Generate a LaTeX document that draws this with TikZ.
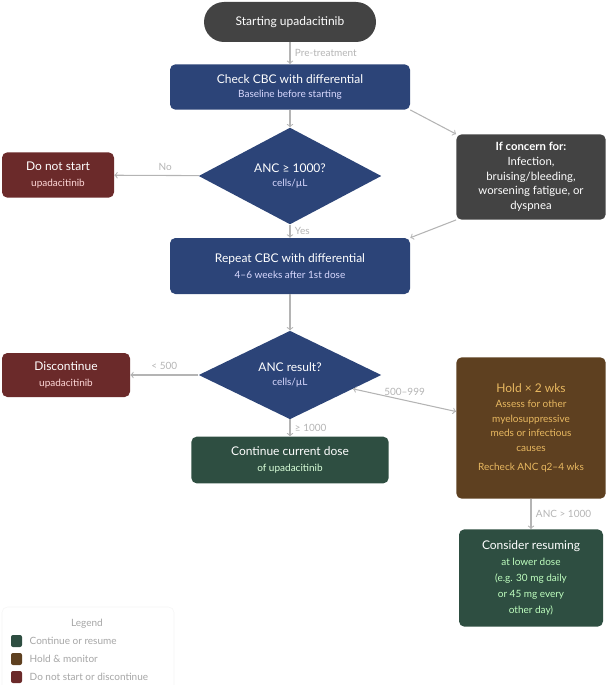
\documentclass[tikz,border=0pt]{standalone}
\usepackage{fontspec}
\setmainfont{Lato}
\usetikzlibrary{shapes.geometric}
\definecolor{startgray}{HTML}{434343}
\definecolor{stepblue}{HTML}{2C4478}
\definecolor{stopred}{HTML}{6B2A2A}
\definecolor{gogreen}{HTML}{2E4E41}
\definecolor{holdbrown}{HTML}{5E4020}
\definecolor{linegray}{HTML}{B4B4B4}
\definecolor{holdtext}{HTML}{E8B860}
\newcommand\subfont{\fontsize{7.5}{11}\selectfont}
\tikzset{
  box/.style={rounded corners=4pt, align=center, inner sep=2pt, text=white, font=\fontsize{9}{12}\selectfont},
  choice/.style={diamond, fill=stepblue, inner sep=0pt, align=center, text=white, font=\fontsize{9}{11}\selectfont},
  link/.style={draw=linegray, thick, -to},
  tag/.style={text=linegray, font=\fontsize{7.5}{9}\selectfont},
}
\begin{document}
\begin{tikzpicture}[x=0.75pt,y=-0.75pt]
    \useasboundingbox (0,0) rectangle (607,685);
    \node[box, fill=startgray, rounded corners=15pt, minimum width=129pt, minimum height=30pt] (start) at (290,22) {Starting upadacitinib};
    \node[box, fill=stepblue, minimum width=180pt, minimum height=34pt] (check) at (290,87) {Check CBC with differential\\[-1pt]{\subfont\color{blue!15}Baseline before starting}};
    \node[choice, minimum width=137pt, minimum height=58pt] (anc) at (290,176) {ANC ≥ 1000?\\{\subfont\color{blue!15}cells/µL}};
    \node[box, fill=stopred, minimum width=84pt, minimum height=34pt] (nostart) at (58,175) {Do not start\\{\subfont\color{red!15}upadacitinib}};
    \node[box, fill=startgray, minimum width=112pt, minimum height=64pt, font=\fontsize{8.5}{11}\selectfont] (concern) at (531,177) {\textbf{If concern for:}\\Infection,\\bruising/bleeding,\\worsening fatigue, or\\dyspnea};
    \node[box, fill=stepblue, minimum width=180pt, minimum height=42pt] (repeat) at (290,266) {Repeat CBC with differential\\{\subfont\color{blue!15}4–6 weeks after 1st dose}};
    \node[choice, minimum width=137pt, minimum height=52pt] (result) at (290,375) {ANC result?\\{\subfont\color{blue!15}cells/µL}};
    \node[box, fill=stopred, minimum width=96pt, minimum height=33pt] (stop) at (66,375) {Discontinue\\{\subfont\color{red!15}upadacitinib}};
    \node[box, fill=gogreen, minimum width=148pt, minimum height=35pt] (keep) at (290,460) {Continue current dose\\{\subfont\color{green!15}of upadacitinib}};
    \node[box, fill=holdbrown, minimum width=112pt, minimum height=106pt, text=holdtext, font=\subfont] (hold) at (531,428) {{\fontsize{9}{12}\selectfont Hold × 2 wks}\\Assess for other\\myelosuppressive\\meds or infectious\\causes\\[3pt]Recheck ANC q2–4 wks};
    \node[box, fill=gogreen, minimum width=108pt, minimum height=73pt] (resume) at (531,578) {Consider resuming\\{\subfont\color{green!25}at lower dose}\\{\subfont\color{green!25}(e.g. 30 mg daily}\\{\subfont\color{green!25}or 45 mg every}\\{\subfont\color{green!25}other day)}};
    % connectors
    \draw[link] (start) -- node[tag, right] {Pre-treatment} (check);
    \draw[link] (check) -- (anc);
    \draw[link] (check.south east) -- (concern.north west);
    \draw[link] (anc) -- node[tag, above, pos=0.4] {No} (nostart);
    \draw[link] (anc) -- node[tag, right] {Yes} (repeat);
    \draw[link] (concern.south west) -- (repeat.north east);
    \draw[link] (repeat) -- (result);
    \draw[link] (result) -- node[tag, above] {< 500} (stop);
    \draw[link, to-to] (result) -- node[tag, above] {500–999} (hold);
    \draw[link] (result) -- node[tag, right] {≥ 1000} (keep);
    \draw[link] (hold) -- node[tag, right] {ANC > 1000} (resume);
    % legend
    \draw[gray!8, fill=white, rounded corners=4pt] (2,607) rectangle (174,690);
    \node[tag, text=gray!70] (legend) at (87,624) {Legend};
    \foreach \y/\c/\t in {641/gogreen/Continue or resume, 659/holdbrown/Hold \& monitor, 677/stopred/Do not start or discontinue} {
        \fill[\c, rounded corners=1.5pt] (11,\y-6) rectangle (22,\y+6);
        \node[tag, text=gray!70, anchor=west] at (25,\y) {\t};
      }
\end{tikzpicture}
\end{document}
